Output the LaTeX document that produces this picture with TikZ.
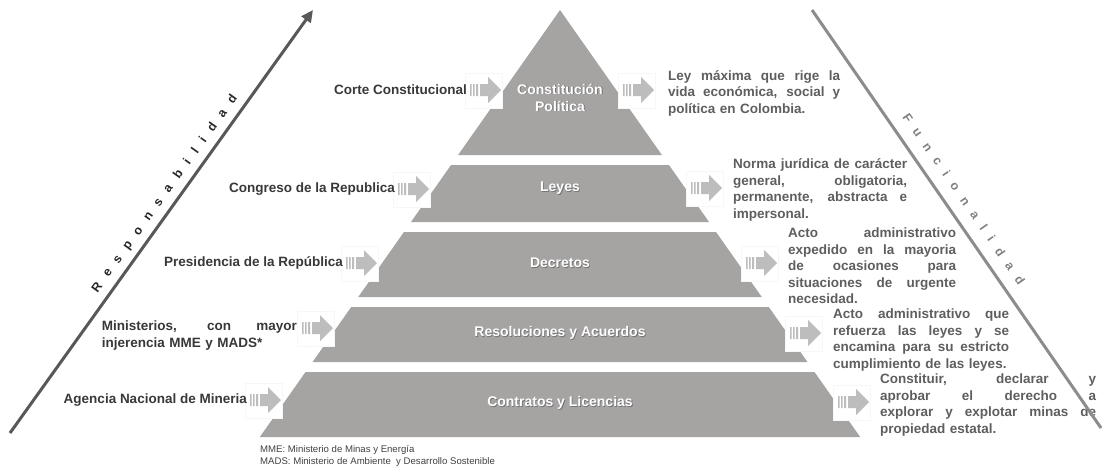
\documentclass[tikz,border=0pt]{standalone}
\usepackage{fontspec}
\setmainfont{Liberation Sans}
\newfontfamily\espaciada[LetterSpace=80]{Liberation Sans}
\usetikzlibrary{arrows.meta}
\setlength{\parindent}{0pt}

\definecolor{grisPiramide}{HTML}{A6A3A3}
\definecolor{grisFlecha}{HTML}{BDBDBD}
\definecolor{grisEntidad}{HTML}{383838}
\definecolor{grisTexto}{HTML}{5E5E5E}
\definecolor{grisResp}{HTML}{585858}
\definecolor{grisFunc}{HTML}{8C8C8C}

% flecha rayada con su recuadro blanco: #1 = x izquierda, #2 = y centro
\newcommand{\flecha}[2]{%
  \fill[white, draw=black!3, line width=0.4pt] (#1-5,#2-17) rectangle (#1+32,#2+18);
  \fill[grisFlecha] (#1,#2-6) rectangle (#1+1.5,#2+6)
    (#1+3,#2-6) rectangle (#1+4.5,#2+6)
    (#1+6,#2-6) rectangle (#1+8,#2+6)
    (#1+10,#2-6) -- (#1+18,#2-6) -- (#1+18,#2-13) -- (#1+31,#2)
    -- (#1+18,#2+13) -- (#1+18,#2+6) -- (#1+10,#2+6) -- cycle;}
% texto blanco con sombra
\newcommand{\sombra}[1]{\makebox[0pt][l]{\hspace{0.8pt}\raisebox{-0.8pt}{\textcolor{black!55}{#1}}}#1}
% linea justificada
\newcommand{\just}[1]{\makebox[\hsize][s]{\spaceskip=0pt\xspaceskip=0pt #1}\\}

\begin{document}
\begin{tikzpicture}[x=1pt,y=-1pt,
  nivel/.style={fill=grisPiramide},
  rotulo/.style={font=\fontsize{14}{17}\selectfont\bfseries, text=white, align=center, inner sep=0pt},
  entidad/.style={font=\fontsize{13.5}{17}\selectfont\bfseries, text=grisEntidad, anchor=east, inner sep=0pt},
  descripcion/.style={font=\fontsize{13.5}{16.5}\selectfont\bfseries, text=grisTexto, anchor=west,
    inner sep=0pt, align=left, text width=#1},
  eje/.style={line width=3pt},
  etiquetaEje/.style={font=\espaciada\bfseries\fontsize{12.5}{12.5}\selectfont, inner sep=0pt},
  nota/.style={font=\fontsize{9.6}{12}\selectfont, text=black!75, anchor=west, align=left, inner sep=0pt}]

% Parametros
\def\xc{560}
\def\pend{0.703}

\useasboundingbox (0,0) rectangle (1102,472);

% ---------- Piramide: cinco niveles ----------
\foreach \ya/\yb in {10/155,165/222,232/297,307/362,372/437}
  \fill[nivel] ({\xc-\pend*(\ya-10)},\ya) -- ({\xc+\pend*(\ya-10)},\ya)
    -- ({\xc+\pend*(\yb-10)},\yb) -- ({\xc-\pend*(\yb-10)},\yb) -- cycle;

% ---------- Flechas de entrada y salida ----------
\flecha{470}{90}  \flecha{623}{90}
\flecha{398}{189} \flecha{691}{188}
\flecha{346}{263} \flecha{746}{263}
\flecha{302}{328} \flecha{790}{333}
\flecha{250}{400} \flecha{838}{402}

% ---------- Rotulos de los niveles ----------
\node[rotulo] (constitucion) at (\xc,98) {\sombra{Constitución}\\\sombra{Política}};
\node[rotulo] (leyes) at (\xc,189) {\sombra{Leyes}};
\node[rotulo] (decretos) at (\xc,263) {\sombra{Decretos}};
\node[rotulo] (resoluciones) at (\xc,333) {\sombra{Resoluciones y Acuerdos}};
\node[rotulo] (contratos) at (\xc,403) {\sombra{Contratos y Licencias}};

% ---------- Entidades (izquierda) ----------
\node[entidad] (corte) at (467,90) {Corte Constitucional};
\node[entidad] (congreso) at (395,189) {Congreso de la Republica};
\node[entidad] (presidencia) at (343,263) {Presidencia de la República};
\node[entidad, text width=195pt, align=left] (ministerios) at (297,336)
  {\just{Ministerios, con mayor}injerencia MME y MADS*};
\node[entidad] (agencia) at (247,400) {Agencia Nacional de Mineria};

% ---------- Descripciones (derecha) ----------
\node[descripcion=172pt] (dConstitucion) at (668,93)
  {\just{Ley máxima que rige la}\just{vida económica, social y}política en Colombia.};
\node[descripcion=174pt] (dLeyes) at (733,190)
  {\just{Norma jurídica de carácter}\just{general, obligatoria,}\just{permanente, abstracta e}impersonal.};
\node[descripcion=168pt] (dDecretos) at (788,266)
  {\just{Acto administrativo}\just{expedido en la mayoria}\just{de ocasiones para}\just{situaciones de urgente}necesidad.};
\node[descripcion=176pt] (dResoluciones) at (833,340)
  {\just{Acto administrativo que}\just{refuerza las leyes y se}\just{encamina para su estricto}cumplimiento de las leyes.};
\node[descripcion=216pt] (dContratos) at (880,405)
  {\just{Constituir, declarar y}\just{aprobar el derecho a}\just{explorar y explotar minas de}propiedad estatal.};

% ---------- Ejes diagonales ----------
\coordinate (respA) at (10,433);
\coordinate (respB) at (313,10);
\draw[eje, grisResp, -{Triangle[length=12pt,width=11pt]}] (respA) -- (respB);
\node[etiquetaEje, text=black!85, rotate=54.3] (resp) at (165,194) {Responsabilidad};

\coordinate (funcA) at (812,10);
\coordinate (funcB) at (1101,428);
\draw[eje, grisFunc] (funcA) -- (funcB);
\node[etiquetaEje, text=black!50, rotate=-55.4] (func) at (964,199) {Funcionalidad};

% ---------- Nota al pie ----------
\node[nota] (nota) at (260,456)
  {MME: Ministerio de Minas y Energía\\MADS: Ministerio de Ambiente \ y Desarrollo Sostenible};

\end{tikzpicture}
\end{document}
